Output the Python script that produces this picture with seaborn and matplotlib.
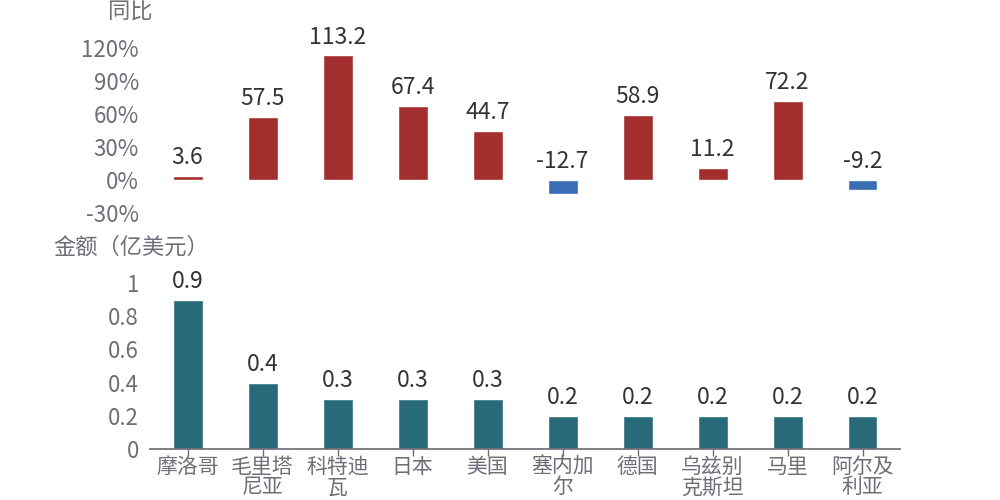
import matplotlib
matplotlib.use("Agg")
import matplotlib.pyplot as plt
import seaborn as sns
import pandas as pd

# ── Dados ─────────────────────────────────────────────────────────────────────
countries = ["摩洛哥", "毛里塔\n尼亚", "科特迪\n瓦", "日本", "美国",
             "塞内加\n尔", "德国", "乌兹别\n克斯坦", "马里", "阿尔及\n利亚"]
yoy = [3.6, 57.5, 113.2, 67.4, 44.7, -12.7, 58.9, 11.2, 72.2, -9.2]
amount = [0.9, 0.4, 0.3, 0.3, 0.3, 0.2, 0.2, 0.2, 0.2, 0.2]
yoy_ticks = [-30, 0, 30, 60, 90, 120]
amt_ticks = [0, 0.2, 0.4, 0.6, 0.8, 1]

RED, BLUE, TEAL = "#A32E2E", "#3A6DB4", "#286A7A"
GRAY, DARK = "#6E6E78", "#333333"

sns.set_theme(style="white")
plt.rcParams["font.family"] = ["Noto Sans CJK SC", "DejaVu Sans"]

df = pd.DataFrame({"country": countries, "yoy": yoy, "amount": amount})
df["sign"] = ["pos" if v >= 0 else "neg" for v in yoy]

fig = plt.figure(figsize=(10, 5), dpi=100)
ax_top = fig.add_axes([0.15, 0.574, 0.75, 0.33])
ax_bot = fig.add_axes([0.15, 0.102, 0.75, 0.332])

# ── Painel superior: 同比 ─────────────────────────────────────────────────────
sns.barplot(data=df, x="country", y="yoy", hue="sign",
            palette={"pos": RED, "neg": BLUE}, width=0.4, dodge=False,
            saturation=1, legend=False, ax=ax_top)
for i, v in enumerate(yoy):
    ax_top.annotate(f"{v:.1f}", (i, max(v, 0)), xytext=(0, 5),
                    textcoords="offset points", ha="center", va="bottom",
                    fontsize=16.5, color=DARK)
ax_top.set_ylim(-30, 120)
ax_top.set_xlim(-0.5, len(countries) - 0.5)
ax_top.set_yticks(yoy_ticks)
ax_top.set_yticklabels([f"{t}%" for t in yoy_ticks])
ax_top.set_xticks([])
ax_top.set_xlabel("")
ax_top.set_ylabel("")
ax_top.tick_params(axis="y", length=0, labelsize=16, labelcolor=GRAY, pad=8)
for s in ax_top.spines.values():
    s.set_visible(False)
fig.text(0.13, 0.975, "同比", ha="center", va="center", fontsize=16, color=GRAY)

# ── Painel inferior: 金额 ─────────────────────────────────────────────────────
sns.barplot(data=df, x="country", y="amount", color=TEAL, width=0.4,
            saturation=1, ax=ax_bot)
for i, v in enumerate(amount):
    ax_bot.annotate(f"{v:.1f}", (i, v), xytext=(0, 5),
                    textcoords="offset points", ha="center", va="bottom",
                    fontsize=16.5, color=DARK)
ax_bot.set_ylim(0, 1)
ax_bot.set_xlim(-0.5, len(countries) - 0.5)
ax_bot.set_yticks(amt_ticks)
ax_bot.set_yticklabels([f"{t:g}" for t in amt_ticks])
ax_bot.set_xlabel("")
ax_bot.set_ylabel("")
ax_bot.tick_params(axis="y", length=0, labelsize=16, labelcolor=GRAY, pad=8)
ax_bot.tick_params(axis="x", length=5, width=1, color=GRAY, labelsize=15,
                   labelcolor=GRAY, pad=0, bottom=True)
for lbl in ax_bot.get_xticklabels():
    lbl.set_linespacing(0.9)
for name, s in ax_bot.spines.items():
    s.set_visible(name == "bottom")
ax_bot.spines["bottom"].set_color(GRAY)
fig.text(0.131, 0.506, "金额（亿美元）", ha="center", va="center", fontsize=16, color=GRAY)

fig.savefig("out.png", dpi=100)
